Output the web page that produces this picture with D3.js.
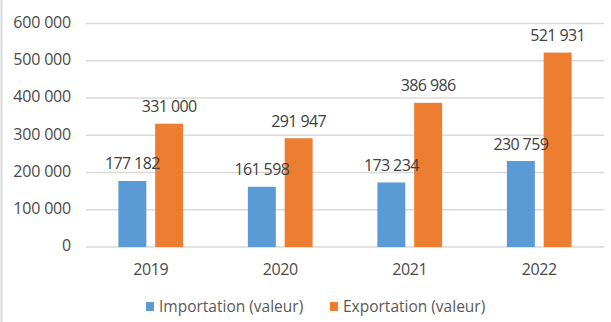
<!DOCTYPE html>
<html>
<head>
<meta charset="utf-8">
<script src="https://cdn.jsdelivr.net/npm/d3@7"></script>
<style>
  body { margin: 0; background: #fff; }
  svg { display: block; font-family: "Open Sans", "Noto Sans", sans-serif; }
</style>
</head>
<body>
<div id="chart"></div>
<script>
const years = ['2019', '2020', '2021', '2022'];
const importValues = [177182, 161598, 173234, 230759];
const exportValues = [331000, 291947, 386986, 521931];
const seriesNames = ['Importation (valeur)', 'Exportation (valeur)'];
const seriesColors = ['#5B9BD5', '#ED7D31'];
const yTicks = [0, 100000, 200000, 300000, 400000, 500000, 600000];

const width = 611, height = 322;
const margin = { top: 23.5, right: 7, bottom: 75, left: 86 };

const svg = d3.select('#chart')
    .append('svg')
    .attr('width', width)
    .attr('height', height);

// Thin frame line on the left edge
svg.append('line')
    .attr('x1', 1.5).attr('x2', 1.5)
    .attr('y1', 0).attr('y2', height)
    .attr('stroke', '#d9d9d9')
    .attr('stroke-width', 2);

const x0 = d3.scaleBand()
    .domain(years)
    .range([margin.left, width - margin.right])
    .paddingInner(0.5)
    .paddingOuter(0.25);

const x1 = d3.scaleBand()
    .domain(d3.range(seriesNames.length))
    .range([0, x0.bandwidth()])
    .paddingInner(0.24);

const y = d3.scaleLinear()
    .domain([0, 600000])
    .range([height - margin.bottom, margin.top]);

const fmt = v => d3.format(',')(v).replace(/,/g, ' ');

// Gridlines
svg.append('g')
    .selectAll('line')
    .data(yTicks)
    .join('line')
    .attr('x1', margin.left)
    .attr('x2', width - margin.right)
    .attr('y1', d => y(d))
    .attr('y2', d => y(d))
    .attr('stroke', '#d9d9d9')
    .attr('stroke-width', 1.5);

// Y axis labels
svg.append('g')
    .selectAll('text')
    .data(yTicks)
    .join('text')
    .attr('x', 71)
    .attr('y', d => y(d))
    .attr('text-anchor', 'end')
    .attr('dominant-baseline', 'middle')
    .attr('font-size', 16)
    .attr('letter-spacing', -0.2)
    .attr('fill', '#4a4a4a')
    .text(d => fmt(d));

// X axis labels
svg.append('g')
    .selectAll('text')
    .data(years)
    .join('text')
    .attr('x', d => x0(d) + x0.bandwidth() / 2)
    .attr('y', 275)
    .attr('text-anchor', 'middle')
    .attr('font-size', 16)
    .attr('letter-spacing', -0.4)
    .attr('fill', '#4a4a4a')
    .text(d => d);

const cells = years.flatMap((yr, i) =>
    [importValues[i], exportValues[i]].map((v, k) => ({ year: yr, k, v })));

const cx = d => x0(d.year) + x1(d.k);

// Bars
svg.append('g')
    .selectAll('rect')
    .data(cells)
    .join('rect')
    .attr('x', cx)
    .attr('y', d => y(d.v))
    .attr('width', x1.bandwidth())
    .attr('height', d => y(0) - y(d.v))
    .attr('fill', d => seriesColors[d.k]);

// Value labels, drawn over all bars
svg.append('g')
    .selectAll('text')
    .data(cells)
    .join('text')
    .attr('x', d => cx(d) + x1.bandwidth() / 2)
    .attr('y', d => y(d.v) - 11.5)
    .attr('text-anchor', 'middle')
    .attr('font-size', 16)
    .attr('letter-spacing', -0.6)
    .attr('fill', '#404040')
    .text(d => fmt(d.v));

// Legend
const legend = svg.append('g');
const legendX = [146, 330];
seriesNames.forEach((name, k) => {
    legend.append('rect')
        .attr('x', legendX[k])
        .attr('y', 302)
        .attr('width', 8)
        .attr('height', 9)
        .attr('fill', seriesColors[k]);
    legend.append('text')
        .attr('x', legendX[k] + 13)
        .attr('y', 312)
        .attr('font-size', 15.5)
        .attr('fill', '#595959')
        .text(name);
});
</script>
</body>
</html>
